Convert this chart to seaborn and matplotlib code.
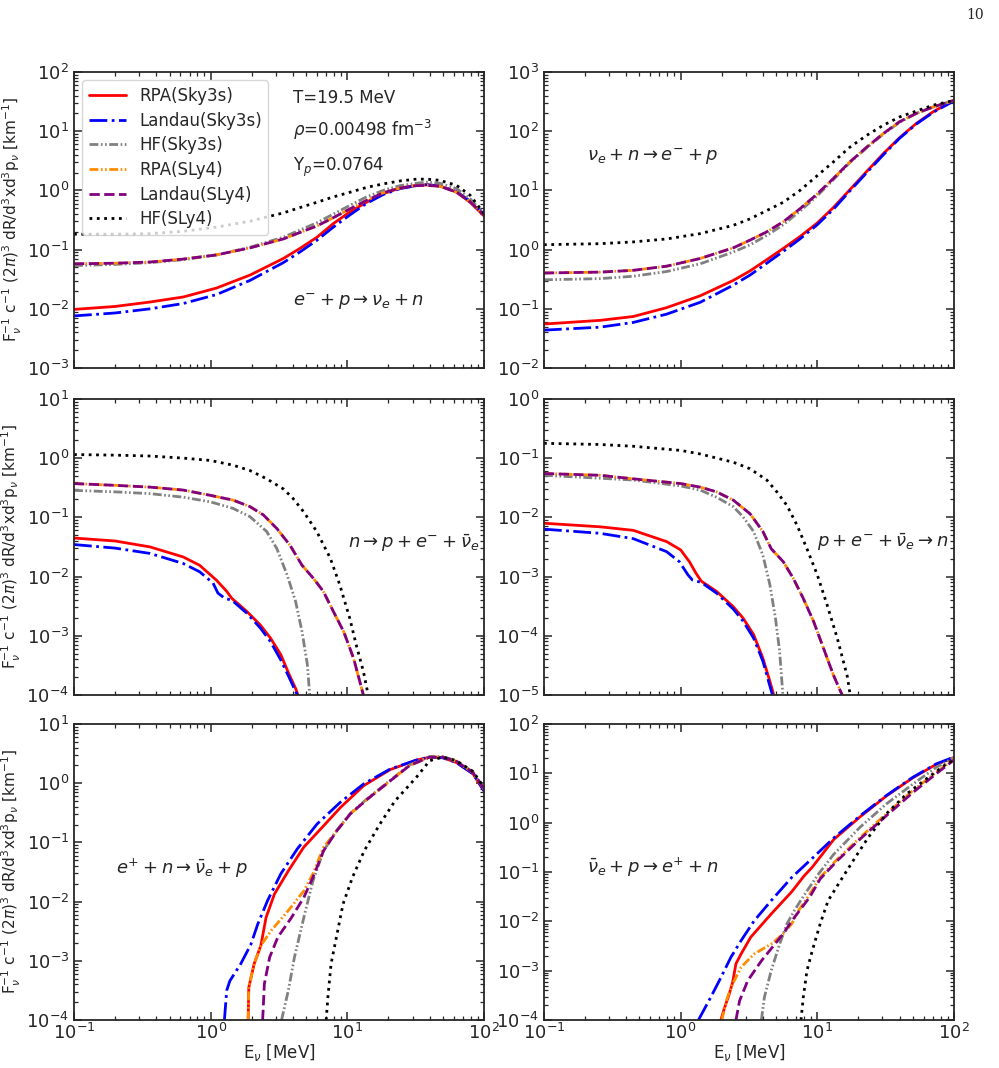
import numpy as np
import matplotlib
matplotlib.use('Agg')
import matplotlib.pyplot as plt
import seaborn as sns

# curve values as log10 of the rate
labels = ['RPA(Sky3s)', 'Landau(Sky3s)', 'HF(Sky3s)', 'RPA(SLy4)', 'Landau(SLy4)', 'HF(SLy4)']

# panel 1: e- + p -> nu_e + n
cap_x = [0.1, 0.2, 0.36, 0.63, 1.1, 1.94, 3.4, 4.5, 6.0, 7.9, 10.5, 13.8, 18.3, 24.3, 32, 38, 47.6, 63, 79, 100]
cap_rpa_sky = [-2.01, -1.96, -1.885, -1.80, -1.65, -1.43, -1.15, -0.98, -0.79, -0.56, -0.36, -0.20, -0.055, 0.04, 0.085, 0.097, 0.075, -0.03, -0.20, -0.43]
cap_lan_sky = [-2.12, -2.07, -2.0, -1.91, -1.76, -1.52, -1.22, -1.04, -0.84, -0.62, -0.41, -0.22, -0.07, 0.03, 0.08, 0.095, 0.075, -0.02, -0.18, -0.40]
cap_hf_sky = [-1.27, -1.25, -1.22, -1.17, -1.09, -0.96, -0.79, -0.67, -0.545, -0.40, -0.25, -0.11, 0.0, 0.08, 0.12, 0.14, 0.12, 0.03, -0.14, -0.40]
cap_rpa_sly = [-1.24, -1.23, -1.21, -1.16, -1.09, -0.97, -0.82, -0.71, -0.60, -0.46, -0.31, -0.17, -0.04, 0.04, 0.08, 0.085, 0.07, -0.03, -0.19, -0.42]
cap_lan_sly = [-1.24, -1.23, -1.21, -1.16, -1.09, -0.97, -0.82, -0.71, -0.60, -0.46, -0.31, -0.17, -0.04, 0.04, 0.08, 0.085, 0.07, -0.03, -0.19, -0.42]
cap_hf_sly = [-0.74, -0.74, -0.73, -0.69, -0.62, -0.52, -0.38, -0.29, -0.20, -0.11, -0.03, 0.05, 0.11, 0.16, 0.19, 0.19, 0.17, 0.085, -0.08, -0.39]

# panel 2: nu_e + n -> e- + p
abs_x = [0.1, 0.257, 0.45, 0.79, 1.39, 2.43, 3.22, 4.27, 5.64, 7.47, 10, 13.1, 17.3, 23, 30.4, 40, 53, 70.6, 100]
abs_rpa_sky = [-1.257, -1.195, -1.13, -0.98, -0.78, -0.52, -0.36, -0.17, 0.02, 0.22, 0.45, 0.71, 1.01, 1.32, 1.62, 1.89, 2.13, 2.33, 2.52]
abs_lan_sky = [-1.36, -1.31, -1.23, -1.09, -0.89, -0.60, -0.43, -0.23, -0.03, 0.18, 0.42, 0.68, 0.99, 1.30, 1.60, 1.88, 2.12, 2.32, 2.51]
abs_hf_sky = [-0.51, -0.49, -0.45, -0.37, -0.24, -0.04, 0.08, 0.24, 0.42, 0.65, 0.91, 1.18, 1.47, 1.72, 1.95, 2.15, 2.30, 2.41, 2.52]
abs_rpa_sly = [-0.395, -0.38, -0.35, -0.28, -0.15, 0.03, 0.16, 0.30, 0.47, 0.69, 0.94, 1.20, 1.48, 1.73, 1.96, 2.16, 2.30, 2.41, 2.52]
abs_lan_sly = [-0.395, -0.38, -0.35, -0.28, -0.15, 0.03, 0.16, 0.30, 0.47, 0.69, 0.94, 1.20, 1.48, 1.73, 1.96, 2.16, 2.30, 2.41, 2.52]
abs_hf_sly = [0.083, 0.10, 0.13, 0.18, 0.27, 0.41, 0.52, 0.66, 0.80, 1.0, 1.25, 1.48, 1.73, 1.93, 2.10, 2.24, 2.34, 2.44, 2.52]

# panel 3: n -> p + e- + nubar_e
dec_rpa_sky_x = [0.1, 0.2, 0.36, 0.63, 0.83, 1.1, 1.31, 1.43, 1.84, 2.31, 2.74, 3.26, 3.76, 4.2, 4.35]
dec_rpa_sky = [-1.35, -1.40, -1.50, -1.67, -1.81, -2.06, -2.25, -2.37, -2.59, -2.82, -3.04, -3.32, -3.66, -3.9, -4.0]
dec_lan_sky_x = [0.1, 0.2, 0.36, 0.63, 0.83, 1.04, 1.13, 1.27, 1.43, 1.84, 2.31, 2.74, 3.26, 3.76, 4.3]
dec_lan_sky = [-1.46, -1.52, -1.61, -1.78, -1.92, -2.11, -2.28, -2.37, -2.40, -2.62, -2.87, -3.10, -3.41, -3.71, -4.0]
dec_hf_sky_x = [0.1, 0.2, 0.36, 0.63, 1.0, 1.46, 1.94, 2.57, 3.05, 3.62, 4.18, 4.66, 5.1, 5.3]
dec_hf_sky = [-0.545, -0.57, -0.60, -0.66, -0.74, -0.85, -0.99, -1.24, -1.53, -1.97, -2.42, -2.93, -3.49, -4.0]
dec_sly_x = [0.1, 0.2, 0.36, 0.63, 1.0, 1.46, 1.94, 2.43, 3.05, 3.8, 4.66, 5.64, 6.67, 7.9, 9.4, 11.1, 13.1]
dec_rpa_sly = [-0.43, -0.46, -0.49, -0.54, -0.63, -0.71, -0.82, -0.96, -1.19, -1.47, -1.81, -2.03, -2.25, -2.59, -2.93, -3.38, -4.0]
dec_lan_sly = [-0.43, -0.46, -0.49, -0.54, -0.63, -0.71, -0.82, -0.96, -1.19, -1.47, -1.81, -2.03, -2.25, -2.59, -2.93, -3.38, -4.0]
dec_hf_sly_x = [0.1, 0.2, 0.36, 0.63, 1.0, 1.46, 1.94, 2.57, 3.4, 4.0, 4.8, 5.97, 7.5, 8.8, 10.4, 11.6, 13.1, 14.2]
dec_hf_sly = [0.06, 0.05, 0.035, 0.0, -0.04, -0.12, -0.21, -0.35, -0.52, -0.68, -0.91, -1.24, -1.69, -2.14, -2.70, -3.15, -3.60, -4.0]

# panel 4: p + e- + nubar_e -> n
inv_rpa_sky_x = [0.1, 0.257, 0.45, 0.79, 1.0, 1.16, 1.30, 1.42, 1.83, 2.43, 2.86, 3.42, 4.0, 4.5, 4.8]
inv_rpa_sky = [-2.10, -2.16, -2.22, -2.41, -2.55, -2.75, -2.95, -3.08, -3.25, -3.51, -3.70, -3.98, -4.38, -4.77, -5.0]
inv_lan_sky_x = [0.1, 0.257, 0.45, 0.79, 0.98, 1.13, 1.22, 1.42, 1.83, 2.43, 2.86, 3.42, 4.0, 4.4, 4.7]
inv_lan_sky = [-2.20, -2.27, -2.36, -2.58, -2.75, -2.97, -3.06, -3.10, -3.28, -3.55, -3.75, -4.04, -4.43, -4.77, -5.0]
inv_hf_sky_x = [0.1, 0.257, 0.45, 1, 1.39, 1.83, 2.43, 2.86, 3.42, 4.0, 4.5, 4.94, 5.3, 5.6]
inv_hf_sky = [-1.29, -1.34, -1.37, -1.47, -1.54, -1.66, -1.82, -1.99, -2.24, -2.64, -3.14, -3.70, -4.26, -5.0]
inv_sly_x = [0.1, 0.257, 0.45, 1, 1.39, 1.83, 2.43, 3.22, 4.0, 4.6, 5.64, 6.67, 7.9, 9.4, 11.1, 13.1, 15.2]
inv_rpa_sly = [-1.26, -1.29, -1.35, -1.43, -1.49, -1.57, -1.71, -1.94, -2.24, -2.53, -2.75, -3.03, -3.37, -3.76, -4.21, -4.66, -5.0]
inv_lan_sly = [-1.26, -1.29, -1.35, -1.43, -1.49, -1.57, -1.71, -1.94, -2.24, -2.53, -2.75, -3.03, -3.37, -3.76, -4.21, -4.66, -5.0]
inv_hf_sly_x = [0.1, 0.257, 0.45, 1, 1.39, 2.43, 3.22, 4.27, 5.06, 6.0, 7.1, 8.4, 10, 11.8, 14, 16.6, 17.4]
inv_hf_sly = [-0.75, -0.77, -0.80, -0.87, -0.93, -1.07, -1.18, -1.37, -1.57, -1.80, -2.13, -2.53, -2.97, -3.48, -4.04, -4.69, -5.0]

# panel 5: e+ + n -> nubar_e + p
pos_lan_sky_x = [1.26, 1.31, 1.38, 1.66, 1.97, 2.21, 2.61, 3.26, 4.3, 6.0, 8.9, 13.2, 20.6, 32, 40, 50, 62.7, 83, 100]
pos_lan_sky = [-4.0, -3.50, -3.34, -3.05, -2.72, -2.38, -1.98, -1.53, -1.11, -0.69, -0.32, -0.01, 0.24, 0.39, 0.44, 0.43, 0.35, 0.16, -0.13]
pos_rpa_sky_x = [1.88, 1.9, 2.08, 2.33, 2.54, 2.93, 3.7, 4.8, 6.7, 8.9, 13.2, 20.6, 32, 40, 50, 62.7, 83, 100]
pos_rpa_sky = [-4.0, -3.45, -3.05, -2.74, -2.27, -1.87, -1.48, -1.08, -0.72, -0.41, -0.04, 0.23, 0.39, 0.44, 0.43, 0.35, 0.16, -0.13]
pos_hf_sky_x = [3.3, 3.7, 4.1, 4.8, 5.6, 6.7, 8.4, 10.5, 14, 20.6, 28.6, 40, 50, 62.7, 83, 100]
pos_hf_sky = [-4.0, -3.50, -2.94, -2.27, -1.65, -1.14, -0.79, -0.51, -0.26, 0.05, 0.31, 0.45, 0.45, 0.38, 0.19, -0.09]
pos_rpa_sly_x = [1.88, 1.9, 2.08, 2.33, 2.77, 3.7, 4.8, 5.6, 6.7, 8.4, 10.5, 14, 20.6, 28.6, 40, 50, 62.7, 83, 100]
pos_rpa_sly = [-4.0, -3.45, -3.05, -2.74, -2.49, -2.15, -1.82, -1.53, -1.08, -0.80, -0.52, -0.27, 0.04, 0.30, 0.44, 0.44, 0.37, 0.18, -0.10]
pos_lan_sly_x = [2.4, 2.47, 2.7, 3.1, 3.9, 4.8, 5.6, 6.7, 8.4, 10.5, 14, 20.6, 28.6, 40, 50, 62.7, 83, 100]
pos_lan_sly = [-4.0, -3.39, -2.94, -2.60, -2.27, -1.93, -1.59, -1.14, -0.80, -0.52, -0.27, 0.04, 0.30, 0.44, 0.44, 0.37, 0.18, -0.10]
pos_hf_sly_x = [7.0, 7.2, 7.6, 8.4, 9.3, 10.9, 13.3, 17.3, 22.3, 32, 40, 50, 62.7, 83, 100]
pos_hf_sly = [-4.0, -3.62, -3.05, -2.55, -2.04, -1.59, -1.14, -0.69, -0.30, 0.10, 0.38, 0.44, 0.38, 0.20, -0.07]

# panel 6: nubar_e + p -> e+ + n
ibd_lan_sky_x = [1.35, 1.66, 1.97, 2.33, 2.77, 3.45, 4.6, 6.5, 9.2, 13.2, 20.6, 32, 50, 74, 100]
ibd_lan_sky = [-4.0, -3.54, -3.14, -2.73, -2.39, -1.99, -1.58, -1.11, -0.72, -0.31, 0.14, 0.55, 0.92, 1.19, 1.33]
ibd_rpa_sky_x = [1.97, 2.08, 2.27, 2.4, 2.54, 2.77, 3.26, 4.6, 6.5, 8.0, 9.2, 13.2, 20.6, 32, 50, 74, 100]
ibd_rpa_sky = [-4.0, -3.78, -3.47, -3.24, -2.86, -2.66, -2.32, -1.85, -1.40, -1.08, -0.90, -0.34, 0.12, 0.54, 0.91, 1.18, 1.32]
ibd_hf_sky_x = [3.9, 4.1, 4.6, 5.3, 6.0, 6.8, 8.1, 10.2, 13.2, 20.6, 32, 50, 74, 100]
ibd_hf_sky = [-4.0, -3.54, -3.0, -2.46, -2.05, -1.78, -1.45, -1.04, -0.64, -0.09, 0.38, 0.78, 1.12, 1.32]
ibd_rpa_sly_x = [2.0, 2.2, 2.4, 2.77, 3.45, 4.6, 5.6, 6.5, 7.3, 8.8, 10.5, 14, 20.6, 32, 50, 74, 100]
ibd_rpa_sly = [-4.0, -3.54, -3.27, -2.93, -2.66, -2.46, -2.26, -2.05, -1.78, -1.45, -1.11, -0.74, -0.30, 0.18, 0.65, 1.02, 1.29]
ibd_lan_sly_x = [2.54, 2.7, 3.1, 3.9, 4.8, 5.6, 6.8, 8.8, 10.5, 14, 20.6, 32, 50, 74, 100]
ibd_lan_sly = [-4.0, -3.61, -3.20, -2.80, -2.49, -2.26, -1.92, -1.51, -1.14, -0.77, -0.33, 0.14, 0.61, 0.99, 1.27]
ibd_hf_sly_x = [7.6, 7.9, 8.4, 9.2, 10.5, 12, 15.3, 19, 23.6, 32, 45, 63, 88, 100]
ibd_hf_sly = [-4.0, -3.54, -3.0, -2.59, -2.05, -1.58, -1.11, -0.70, -0.30, 0.18, 0.58, 0.89, 1.19, 1.27]

panels = [
    [(cap_x, cap_rpa_sky), (cap_x, cap_lan_sky), (cap_x, cap_hf_sky),
     (cap_x, cap_rpa_sly), (cap_x, cap_lan_sly), (cap_x, cap_hf_sly)],
    [(abs_x, abs_rpa_sky), (abs_x, abs_lan_sky), (abs_x, abs_hf_sky),
     (abs_x, abs_rpa_sly), (abs_x, abs_lan_sly), (abs_x, abs_hf_sly)],
    [(dec_rpa_sky_x, dec_rpa_sky), (dec_lan_sky_x, dec_lan_sky), (dec_hf_sky_x, dec_hf_sky),
     (dec_sly_x, dec_rpa_sly), (dec_sly_x, dec_lan_sly), (dec_hf_sly_x, dec_hf_sly)],
    [(inv_rpa_sky_x, inv_rpa_sky), (inv_lan_sky_x, inv_lan_sky), (inv_hf_sky_x, inv_hf_sky),
     (inv_sly_x, inv_rpa_sly), (inv_sly_x, inv_lan_sly), (inv_hf_sly_x, inv_hf_sly)],
    [(pos_rpa_sky_x, pos_rpa_sky), (pos_lan_sky_x, pos_lan_sky), (pos_hf_sky_x, pos_hf_sky),
     (pos_rpa_sly_x, pos_rpa_sly), (pos_lan_sly_x, pos_lan_sly), (pos_hf_sly_x, pos_hf_sly)],
    [(ibd_rpa_sky_x, ibd_rpa_sky), (ibd_lan_sky_x, ibd_lan_sky), (ibd_hf_sky_x, ibd_hf_sky),
     (ibd_rpa_sly_x, ibd_rpa_sly), (ibd_lan_sly_x, ibd_lan_sly), (ibd_hf_sly_x, ibd_hf_sly)],
]

ylims = [(1e-3, 1e2), (1e-2, 1e3), (1e-4, 1e1), (1e-5, 1e0), (1e-4, 1e1), (1e-4, 1e2)]
reactions = [r'$e^{-}+p\rightarrow\nu_e+n$', r'$\nu_e+n\rightarrow e^{-}+p$',
             r'$n\rightarrow p+e^{-}+\bar{\nu}_e$', r'$p+e^{-}+\bar{\nu}_e\rightarrow n$',
             r'$e^{+}+n\rightarrow\bar{\nu}_e+p$', r'$\bar{\nu}_e+p\rightarrow e^{+}+n$']
reaction_pos = [(0.534, 0.223), (0.105, 0.713), (0.668, 0.512), (0.666, 0.515), (0.102, 0.514), (0.105, 0.517)]

ddot = (0, (3.2, 0.9, 0.6, 0.9, 0.6, 0.9))
colors = ['red', 'blue', 'grey', 'darkorange', 'purple', 'black']
styles = ['-', '-.', ddot, ddot, '--', ':']

sns.set_style('ticks')
plt.rcParams['font.family'] = ['DejaVu Sans']
plt.rcParams['mathtext.fontset'] = 'dejavusans'
plt.rcParams['font.size'] = 12
plt.rcParams['axes.linewidth'] = 1.3

fig = plt.figure(figsize=(9.99, 10.68), dpi=100)
lefts = [0.0741, 0.5445]
bottoms = [0.6554, 0.3493, 0.0449]
ylab = r'F$_\nu^{-1}$ c$^{-1}$ (2$\pi$)$^3$ dR/d$^3$xd$^3$p$_\nu$ [km$^{-1}$]'

for i, curves in enumerate(panels):
    row, col = divmod(i, 2)
    ax = fig.add_axes([lefts[col], bottoms[row], 0.4104, 0.2772])
    ax.set_xscale('log')
    ax.set_yscale('log')
    for (xs, ly), c, ls, lab in zip(curves, colors, styles, labels):
        sns.lineplot(x=np.array(xs), y=10.0 ** np.array(ly), ax=ax, color=c,
                     linestyle=ls, linewidth=2, label=lab, sort=False,
                     estimator=None, legend=False)
    ax.set_xlim(0.1, 100)
    ax.set_ylim(*ylims[i])
    ax.tick_params(which='both', direction='in', top=True, right=True, labelsize=13)
    ax.tick_params(which='major', length=6, width=1.1)
    ax.tick_params(which='minor', length=3, width=0.9)
    ax.tick_params(axis='x', pad=2)
    ax.text(*reaction_pos[i], reactions[i], transform=ax.transAxes, fontsize=13, va='center')
    if col == 0:
        ax.set_ylabel(ylab, fontsize=11, labelpad=2)
    else:
        ax.set_ylabel('')
    if row == 2:
        ax.set_xlabel(r'E$_\nu$ [MeV]', fontsize=12, labelpad=-1)
    else:
        ax.set_xlabel('')
        ax.tick_params(labelbottom=False)
    if i == 0:
        ax.legend(loc='upper left', fontsize=12, handlelength=2.2, labelspacing=0.4)
        ax.text(0.534, 0.912, 'T=19.5 MeV', transform=ax.transAxes, va='center', fontsize=12)
        ax.text(0.534, 0.804, r'$\rho$=0.00498 fm$^{-3}$', transform=ax.transAxes, va='center', fontsize=12)
        ax.text(0.534, 0.679, r'Y$_p$=0.0764', transform=ax.transAxes, va='center', fontsize=12)

fig.text(0.976, 0.986, '10', fontsize=10, family='DejaVu Serif', ha='center', va='center')
fig.savefig('out.png', dpi=100)
